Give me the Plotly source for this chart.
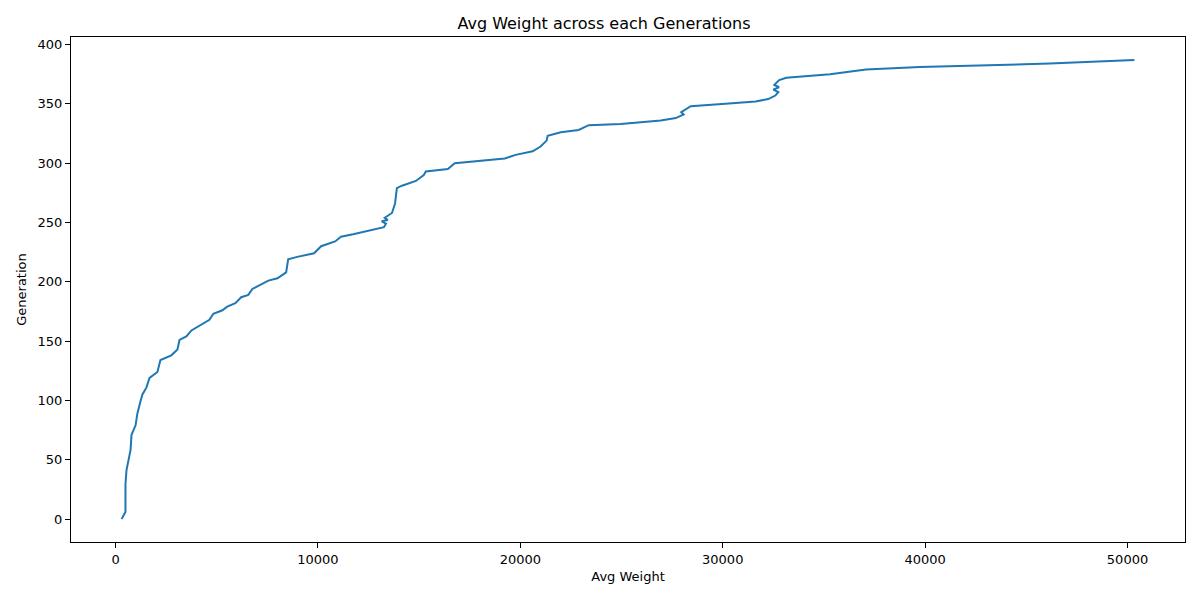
import plotly.graph_objects as go

# avg weight per generation
avg_weight = [300, 490, 490, 540, 740, 790, 990, 1080, 1230, 1330, 1530, 1680, 2070, 2220,
              2760, 3060, 3160, 3500, 3750, 4640, 4830, 5280, 5520, 5920, 6210, 6560, 6760,
              7200, 7550, 8000, 8430, 8530, 8980, 9810, 10160, 10850, 11140, 11740, 12520,
              13260, 13360, 13150, 13450, 13300, 13660, 13810, 13900, 14150, 14840, 15230,
              15330, 16420, 16760, 17350, 19230, 19770, 20610, 21000, 21300, 21350, 22000,
              22880, 23380, 24960, 26940, 27680, 28070, 27950, 28220, 28420, 30140, 31620,
              32250, 32600, 32750, 32500, 32780, 32550, 32790, 33140, 35300, 36290, 37080,
              39740, 46150, 50340]
generation = [0, 6, 29, 41, 58, 71, 79, 89, 99, 105, 111, 119, 124, 134,
              138, 143, 151, 154, 159, 168, 173, 176, 179, 182, 187, 189, 194,
              198, 201, 203, 208, 219, 221, 224, 230, 234, 238, 240, 243,
              246, 249, 251, 252, 254, 258, 266, 279, 281, 285, 290,
              293, 295, 300, 301, 304, 307, 310, 314, 319, 323, 326,
              328, 332, 333, 336, 338, 341, 343, 346, 348, 350, 352,
              354, 357, 360, 362, 364, 366, 370, 372, 375, 377, 379,
              381, 384, 387]
x_ticks = [0, 10000, 20000, 30000, 40000, 50000]
y_ticks = [0, 50, 100, 150, 200, 250, 300, 350, 400]

fig = go.Figure()
fig.add_trace(go.Scatter(x=avg_weight, y=generation, mode="lines",
                         line=dict(color="#1f77b4", width=2)))

axis_style = dict(showline=True, linecolor="black", linewidth=1, mirror=True,
                  ticks="outside", ticklen=5, tickcolor="black", showgrid=False,
                  zeroline=False, automargin=False, tickfont=dict(size=13, color="black"))

fig.update_layout(
    width=1192, height=592,
    margin=dict(l=63, r=15, t=29, b=58),
    paper_bgcolor="white", plot_bgcolor="white",
    font=dict(family="DejaVu Sans", color="black"),
    showlegend=False,
    title=dict(text="Avg Weight across each Generations", x=0.5, xanchor="center",
               y=0.9747, yanchor="middle", font=dict(size=16)),
)
fig.update_xaxes(range=[-2200, 52840], tickvals=x_ticks, ticktext=[str(v) for v in x_ticks],
                 title=dict(text="Avg Weight", font=dict(size=13), standoff=6), **axis_style)
fig.update_yaxes(range=[-19.35, 406.35], tickvals=y_ticks, ticktext=[str(v) for v in y_ticks],
                 title=dict(text="Generation", font=dict(size=13), standoff=8), **axis_style)

fig.write_html("out.html")
